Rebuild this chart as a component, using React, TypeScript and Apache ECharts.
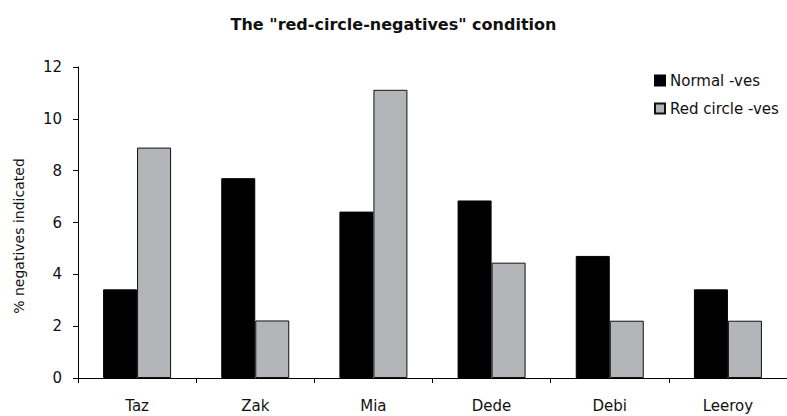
import React, { useEffect, useRef } from "react";
import * as echarts from "echarts";

const categories = ["Taz", "Zak", "Mia", "Dede", "Debi", "Leeroy"];
const normalVes = [3.42, 7.71, 6.42, 6.85, 4.71, 3.42];
const redCircleVes = [8.89, 2.22, 11.12, 4.45, 2.21, 2.21];
const seriesNames = ["Normal -ves", "Red circle -ves"];
const yTicks = { min: 0, max: 12, interval: 2 };

const FONT = "DejaVu Sans";

export default function App() {
  const ref = useRef<HTMLDivElement>(null);
  useEffect(() => {
    if (!ref.current) return;
    const chart = echarts.init(ref.current, undefined, { renderer: "svg" });
    chart.setOption({
      animation: false,
      backgroundColor: "#ffffff",
      title: {
        text: 'The "red-circle-negatives" condition',
        left: "center",
        top: 11,
        textStyle: { fontFamily: FONT, fontSize: 16, fontWeight: "bold", color: "#111" },
      },
      legend: {
        orient: "vertical",
        left: 649,
        top: 68,
        itemWidth: 10,
        itemHeight: 10,
        itemGap: 13,
        icon: "rect",
        data: seriesNames,
        textStyle: { fontFamily: FONT, fontSize: 15, color: "#111" },
      },
      grid: { left: 78, right: -9, top: 67, bottom: 38, containLabel: false },
      xAxis: {
        type: "category",
        data: categories,
        axisLine: { lineStyle: { color: "#000", width: 1 } },
        axisTick: { show: true, length: 5, lineStyle: { color: "#000" } },
        axisLabel: { fontFamily: FONT, fontSize: 15, color: "#111", margin: 20 },
      },
      yAxis: {
        type: "value",
        min: yTicks.min,
        max: yTicks.max,
        interval: yTicks.interval,
        splitLine: { show: false },
        axisLine: { show: true, lineStyle: { color: "#000", width: 1 } },
        axisTick: { show: true, length: 5, lineStyle: { color: "#000" } },
        axisLabel: { fontFamily: FONT, fontSize: 15, color: "#111", margin: 16 },
      },
      graphic: [
        {
          type: "text",
          x: 19,
          y: 236,
          rotation: Math.PI / 2,
          style: {
            text: "% negatives indicated",
            fontFamily: FONT,
            fontSize: 14,
            fill: "#111",
            align: "center",
            verticalAlign: "middle",
          },
        },
      ],
      series: [
        {
          name: seriesNames[0],
          type: "bar",
          data: normalVes,
          barWidth: 34,
          barGap: "0%",
          itemStyle: { color: "#000000", borderColor: "#000", borderWidth: 1 },
        },
        {
          name: seriesNames[1],
          type: "bar",
          data: redCircleVes,
          barWidth: 34,
          barGap: "0%",
          itemStyle: { color: "#b4b5b9", borderColor: "#111", borderWidth: 1 },
        },
      ],
    });
    return () => chart.dispose();
  }, []);
  return (
    <div
      ref={ref}
      style={{ position: "fixed", left: 0, top: 0, width: 787, height: 416 }}
    />
  );
}
